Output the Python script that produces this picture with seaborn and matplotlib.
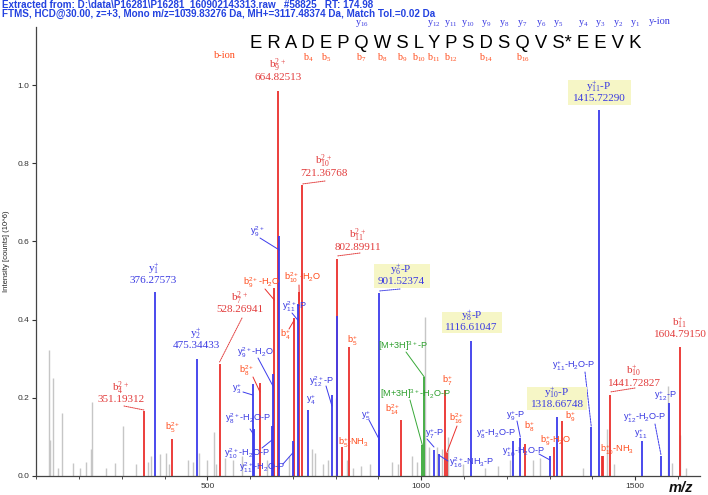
import matplotlib
matplotlib.use("Agg")
import matplotlib.pyplot as plt
from matplotlib.patches import Rectangle
from matplotlib.font_manager import FontProperties
import seaborn as sns

# ---------------- data ----------------
header_line1 = r"Extracted from: D:\data\P16281\P16281_160902143313.raw   #58825   RT: 174.98"
header_line2 = "FTMS, HCD@30.00, z=+3, Mono m/z=1039.83276 Da, MH+=3117.48374 Da, Match Tol.=0.02 Da"
sequence = ["E", "R", "A", "D", "E", "P", "Q", "W", "S", "L", "Y", "P", "S", "D", "S",
            "Q", "V", "S*", "E", "E", "V", "K"]
b_ions_found = [4, 5, 7, 8, 9, 10, 11, 12, 14, 16]
y_ions_found = [16, 12, 11, 10, 9, 8, 7, 6, 5, 4, 3, 2, 1]
y_ticks = [0.0, 0.2, 0.4, 0.6, 0.8, 1.0]
x_ticks = [500, 1000, 1500]

# b ions (red)
red_labels = [r"$\mathregular{b_4^{2+}}$", r"$\mathregular{b_5^{2+}}$", r"$\mathregular{b_7^{2+}}$",
              r"$\mathregular{b_8^{2+}}$", r"$\mathregular{b_9^{2+}}$-$\mathregular{H_2}$O",
              r"$\mathregular{b_9^{2+}}$", r"$\mathregular{b_4^{+}}$",
              r"$\mathregular{b_{10}^{2+}}$-$\mathregular{H_2}$O", r"$\mathregular{b_{10}^{2+}}$",
              r"$\mathregular{b_{11}^{2+}}$", r"$\mathregular{b_5^{+}}$-$\mathregular{NH_3}$",
              r"$\mathregular{b_5^{+}}$", r"$\mathregular{b_{14}^{2+}}$", r"$\mathregular{b_7^{+}}$",
              r"$\mathregular{b_{16}^{2+}}$", r"$\mathregular{b_8^{+}}$",
              r"$\mathregular{b_9^{+}}$-$\mathregular{H_2}$O", r"$\mathregular{b_9^{+}}$", None,
              r"$\mathregular{b_{10}^{+}}$-$\mathregular{NH_3}$", r"$\mathregular{b_{10}^{+}}$",
              r"$\mathregular{b_{11}^{+}}$"]
red_mz = [351.19312, 416.3, 528.26941, 622.8, 656.3, 664.82513, 703.0, 714.7, 721.36768,
          802.89911, 813.9, 831.0, 952.6, 1056.3, 1059.5, 1242.7, 1311.2, 1329.9, 1422.1,
          1425.1, 1441.72827, 1604.79150]
red_int = [0.165, 0.095, 0.287, 0.237, 0.48, 0.985, 0.405, 0.47, 0.745, 0.555, 0.075, 0.33,
           0.143, 0.22, 0.058, 0.082, 0.075, 0.14, 0.05, 0.05, 0.207, 0.33]

# y ions (blue)
blue_labels = [r"$\mathregular{y_1^{+}}$", r"$\mathregular{y_2^{+}}$", r"$\mathregular{y_3^{+}}$",
               r"$\mathregular{y_8^{2+}}$-$\mathregular{H_2}$O-P",
               r"$\mathregular{y_{10}^{2+}}$-$\mathregular{H_2}$O-P",
               r"$\mathregular{y_9^{2+}}$-$\mathregular{H_2}$O", r"$\mathregular{y_9^{2+}}$",
               r"$\mathregular{y_{11}^{2+}}$-$\mathregular{H_2}$O-P", r"$\mathregular{y_{11}^{2+}}$-P",
               r"$\mathregular{y_4^{+}}$", r"$\mathregular{y_{12}^{2+}}$-P", None,
               r"$\mathregular{y_5^{+}}$", r"$\mathregular{y_6^{+}}$-P", r"$\mathregular{y_7^{+}}$-P",
               r"$\mathregular{y_{16}^{2+}}$-$\mathregular{NH_3}$-P", r"$\mathregular{y_8^{+}}$-P",
               r"$\mathregular{y_8^{+}}$-$\mathregular{H_2}$O-P", r"$\mathregular{y_9^{+}}$-P",
               r"$\mathregular{y_{10}^{+}}$-$\mathregular{H_2}$O-P", r"$\mathregular{y_{10}^{+}}$-P",
               r"$\mathregular{y_{11}^{+}}$-$\mathregular{H_2}$O-P", r"$\mathregular{y_{11}^{+}}$-P",
               r"$\mathregular{y_{11}^{+}}$", r"$\mathregular{y_{12}^{+}}$-$\mathregular{H_2}$O-P",
               r"$\mathregular{y_{12}^{+}}$-P"]
blue_mz = [376.27573, 475.34433, 605.7, 608.8, 650.9, 654.4, 668.0, 699.3, 711.0, 734.4, 791.2,
           802.2, 901.2, 901.52374, 1029.8, 1040.8, 1116.61047, 1214.6, 1231.7, 1301.2,
           1318.66748, 1397.8, 1415.72290, 1515.7, 1560.8, 1580.2]
blue_int = [0.47, 0.30, 0.235, 0.12, 0.128, 0.26, 0.615, 0.09, 0.44, 0.17, 0.207, 0.41, 0.118,
            0.468, 0.066, 0.056, 0.345, 0.09, 0.097, 0.05, 0.152, 0.126, 0.936, 0.09, 0.051, 0.187]

# precursor ions (green)
green_labels = [r"[M+3$\mathregular{H]^{3+}}$-$\mathregular{H_2}$O-P", r"[M+3$\mathregular{H]^{3+}}$-P"]
green_mz = [1002.5, 1007.1]
green_int = [0.08, 0.254]

# unassigned peaks (gray)
gray_mz = [130, 131.5, 138, 150, 160, 186, 202, 217, 228, 231, 262, 283, 302, 333, 360, 369,
           389, 404, 411, 454, 465, 479, 498, 516, 520, 540, 560, 580, 640, 690, 745, 751, 770,
           782, 800, 826, 840, 860, 880, 931, 945, 978, 989, 1008.8, 1019, 1036, 1048, 1062,
           1098, 1150, 1180, 1207, 1262, 1278, 1379, 1435, 1450, 1576.5, 1586, 1605.5, 1620]
gray_int = [0.322, 0.092, 0.25, 0.02, 0.16, 0.033, 0.02, 0.037, 0.07, 0.19, 0.02, 0.033, 0.128,
            0.03, 0.035, 0.05, 0.056, 0.058, 0.03, 0.04, 0.035, 0.06, 0.04, 0.113, 0.03, 0.045,
            0.04, 0.05, 0.04, 0.05, 0.07, 0.06, 0.03, 0.04, 0.2, 0.04, 0.02, 0.025, 0.03, 0.035,
            0.03, 0.05, 0.035, 0.407, 0.075, 0.075, 0.07, 0.1, 0.03, 0.02, 0.025, 0.04, 0.04,
            0.045, 0.02, 0.12, 0.03, 0.23, 0.033, 0.105, 0.02]

# ---------------- style / layout ----------------
W, H = 708, 495
sns.set_theme(style="ticks")
plt.rcParams["font.family"] = ["Liberation Sans", "DejaVu Sans"]
SERIF = ["Liberation Serif", "DejaVu Serif"]
SANS = ["Liberation Sans", "DejaVu Sans"]

C_RED_PEAK, C_BLUE_PEAK, C_GREEN_PEAK, C_GRAY = "#ea2f2c", "#3c3cec", "#38a838", "#c6c6c6"
C_RED_MAIN, C_RED_SMALL, C_BLUE_TXT, C_GREEN_TXT = "#e23b3b", "#ff4c1c", "#3a3ae2", "#2c9f2c"
C_BOX = "#f6f6c6"
SMALL_FS = 6.6

fig = plt.figure(figsize=(W / 100, H / 100), dpi=100)
ax = fig.add_axes([36 / W, 19 / H, (700 - 36) / W, (476 - 27) / H])
ax.set_xlim(98.9, 1652)
ax.set_ylim(0, 449 / 391)

ax.vlines(gray_mz, 0, gray_int, colors=C_GRAY, lw=1.0, zorder=1)
ax.vlines(red_mz, 0, red_int, colors=C_RED_PEAK, lw=1.3, zorder=2)
ax.vlines(blue_mz, 0, blue_int, colors=C_BLUE_PEAK, lw=1.3, zorder=2)
ax.vlines(green_mz, 0, green_int, colors=C_GREEN_PEAK, lw=1.3, zorder=2)

sns.despine(ax=ax)
ax.set_yticks(y_ticks)
ax.set_yticklabels([f"{v:.1f}" for v in y_ticks])
ax.set_xticks(x_ticks)
ax.set_xticks(range(100, 1700, 100), minor=True)
ax.tick_params(axis="both", labelsize=6, length=3, width=0.8, colors="#333333", pad=2)
ax.tick_params(axis="x", which="minor", length=2, width=0.6, colors="#333333")
for s in ("left", "bottom"):
    ax.spines[s].set_color("#444444")
    ax.spines[s].set_linewidth(0.9)


def F(px, py):
    return px / W, 1 - py / H


def leader(mz, x0, y0, y1, color, ls="-", lw=0.7):
    ax.annotate("", xy=(mz, 1 - y1 / H), xycoords=("data", "figure fraction"),
                xytext=F(x0, y0), textcoords="figure fraction", annotation_clip=False,
                arrowprops=dict(arrowstyle="-", color=color, lw=lw, ls=ls,
                                shrinkA=0, shrinkB=0))


# header
fig.text(*F(2, 4.5), header_line1, fontsize=7.1, fontweight="bold", color="#2342e0",
         va="center", ha="left", family=SANS)
fig.text(*F(2, 13.5), header_line2, fontsize=7.1, fontweight="bold", color="#2342e0",
         va="center", ha="left", family=SANS)

# axis labels
fig.text(*F(7, 251), "Intensity [counts] (10^6)", rotation=90, fontsize=5.5,
         va="center", ha="center", color="#222222")
fig.text(*F(681, 488), "m/z", fontsize=10.5, fontweight="bold", style="italic",
         va="center", ha="center", color="#111111")

# sequence with fragment indices
seq_str = " ".join(sequence)
seq_size = 13.3
seq_left, seq_y = 250, 43.5
fig.text(*F(seq_left, seq_y), seq_str, fontsize=seq_size, family=SANS, color="black",
         va="center", ha="left")
renderer = fig.canvas.get_renderer()
fp = FontProperties(family=SANS, size=seq_size)


def wpx(s):
    w, h, d = renderer.get_text_width_height_descent(s, fp, ismath=False)
    return w


centers = []
for i in range(len(sequence)):
    pref = " ".join(sequence[:i + 1])
    full = wpx(pref)
    last = wpx(sequence[i])
    ch = wpx(sequence[i][0])
    centers.append(seq_left + full - last + ch / 2)

n_res = len(sequence)
for n in b_ions_found:
    fig.text(*F(centers[n - 1], 57.5), rf"$\mathregular{{b_{{{n}}}}}$", fontsize=7.2,
             family=SERIF, color=C_RED_SMALL, ha="center", va="center")
for n in y_ions_found:
    fig.text(*F(centers[n_res - n], 23.5), rf"$\mathregular{{y_{{{n}}}}}$", fontsize=7.2,
             family=SERIF, color=C_BLUE_TXT, ha="center", va="center")
fig.text(*F(225, 55), "b-ion", fontsize=7.5, family=SERIF, color=C_RED_SMALL,
         ha="center", va="center")
fig.text(*F(660, 22), "y-ion", fontsize=7.5, family=SERIF, color=C_BLUE_TXT,
         ha="center", va="center")

# main (two-line, serif) labels: (series, index) -> center, box, dotted leader
main_layout = {
    ("r", 0): dict(c=(121, 394), lead=(124, 406, 410)),
    ("r", 2): dict(c=(240, 304), lead=(242, 318, 362)),
    ("r", 5): dict(c=(278, 71)),
    ("r", 8): dict(c=(324, 167.5), lead=(325, 181, 184)),
    ("r", 9): dict(c=(358, 241), lead=(360, 253, 256)),
    ("r", 20): dict(c=(634, 377), lead=(635, 388, 392)),
    ("r", 21): dict(c=(680, 328.5)),
    ("b", 0): dict(c=(153.5, 274.7)),
    ("b", 1): dict(c=(196, 340)),
    ("b", 13): dict(c=(401, 276), box=(374, 264, 430, 288), lead=(400, 289, 291)),
    ("b", 16): dict(c=(471.7, 322), box=(441.7, 311.7, 501.7, 333.3)),
    ("b", 20): dict(c=(557, 398.7), box=(527.3, 387.3, 586.7, 410)),
    ("b", 22): dict(c=(599, 92.5), box=(567.7, 80, 630.7, 105)),
}

# small (sans) labels: center, optional leader (x0, y0, y1)
small_layout = {
    ("r", 1): dict(c=(173, 428)),
    ("r", 3): dict(c=(247, 371), lead=(253, 377, 392)),
    ("r", 4): dict(c=(262, 283), lead=(265, 289, 300)),
    ("r", 6): dict(c=(285, 335), lead=(289, 329, 320)),
    ("r", 7): dict(c=(303, 278), lead=(299, 285, 300)),
    ("r", 10): dict(c=(353, 443)),
    ("r", 11): dict(c=(352, 341)),
    ("r", 12): dict(c=(393, 409.5)),
    ("r", 13): dict(c=(447, 381)),
    ("r", 14): dict(c=(457, 419), lead=(457, 426, 453)),
    ("r", 15): dict(c=(529, 427)),
    ("r", 16): dict(c=(556, 441)),
    ("r", 17): dict(c=(570, 416.5)),
    ("r", 19): dict(c=(617, 450)),
    ("b", 2): dict(c=(237, 389), lead=(243, 392, 395)),
    ("b", 3): dict(c=(248, 419), lead=(250, 429, 435)),
    ("b", 4): dict(c=(247, 454), lead=(262, 448, 440)),
    ("b", 5): dict(c=(255, 353), lead=(258, 358, 387)),
    ("b", 6): dict(c=(257, 232), lead=(260, 238, 250)),
    ("b", 7): dict(c=(262, 468), lead=(283, 464, 453)),
    ("b", 8): dict(c=(295, 307), lead=(292, 313, 320)),
    ("b", 9): dict(c=(311, 400)),
    ("b", 10): dict(c=(322, 382), lead=(326, 386, 406)),
    ("b", 12): dict(c=(366, 416), lead=(369, 420, 439)),
    ("b", 14): dict(c=(435, 434), lead=(427, 439, 447)),
    ("b", 15): dict(c=(472, 463), lead=(448, 461, 455)),
    ("b", 17): dict(c=(496, 434)),
    ("b", 18): dict(c=(516, 416), lead=(517, 421, 437)),
    ("b", 19): dict(c=(524, 452), lead=(539, 454, 460)),
    ("b", 21): dict(c=(574, 366), lead=(585, 372, 427), ls=(0, (2, 1))),
    ("b", 23): dict(c=(641, 434)),
    ("b", 24): dict(c=(645, 418), lead=(655, 424, 455), ls=(0, (2, 1))),
    ("b", 25): dict(c=(665, 396)),
    ("g", 0): dict(c=(416, 394.5), lead=(410, 400, 445)),
    ("g", 1): dict(c=(403, 346), lead=(406, 352, 377)),
}

series = {
    "r": (red_labels, red_mz, C_RED_MAIN, C_RED_SMALL, C_RED_PEAK),
    "b": (blue_labels, blue_mz, C_BLUE_TXT, C_BLUE_TXT, C_BLUE_PEAK),
    "g": (green_labels, green_mz, C_GREEN_TXT, C_GREEN_TXT, C_GREEN_PEAK),
}

for (k, i), lay in main_layout.items():
    labels, mzs, cmain, _, cpeak = series[k]
    cx, cy = lay["c"]
    if "box" in lay:
        x0, y0, x1, y1 = lay["box"]
        fig.patches.append(Rectangle(F(x0, y1), (x1 - x0) / W, (y1 - y0) / H,
                                     transform=fig.transFigure, facecolor=C_BOX,
                                     edgecolor="none", zorder=1))
    fig.text(*F(cx, cy - 6), labels[i], fontsize=8, family=SERIF, color=cmain,
             ha="center", va="center", zorder=3)
    fig.text(*F(cx, cy + 6), f"{mzs[i]:.5f}", fontsize=8, family=SERIF, color=cmain,
             ha="center", va="center", zorder=3)
    if "lead" in lay:
        x0, y0, y1 = lay["lead"]
        leader(mzs[i], x0, y0, y1, cmain, ls=(0, (1, 1)), lw=0.7)

for (k, i), lay in small_layout.items():
    labels, mzs, _, csmall, cpeak = series[k]
    cx, cy = lay["c"]
    fig.text(*F(cx, cy), labels[i], fontsize=SMALL_FS, family=SANS, color=csmall,
             ha="center", va="center", zorder=3)
    if "lead" in lay:
        x0, y0, y1 = lay["lead"]
        leader(mzs[i], x0, y0, y1, cpeak, ls=lay.get("ls", "-"), lw=0.7)

fig.savefig("out.png", dpi=100)
